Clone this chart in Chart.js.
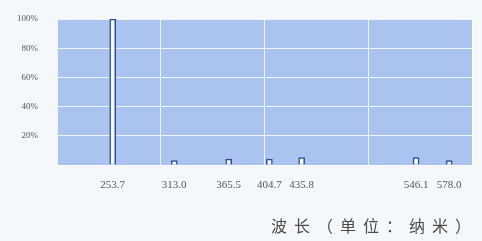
<!DOCTYPE html>
<html lang="zh">
<head>
    <meta charset="UTF-8">
    <title>汞灯谱线</title>
    <script src="https://cdn.jsdelivr.net/npm/chart.js"></script>
    <style>
        html, body { margin: 0; padding: 0; background: #f5f8fb; }
        #wrap { position: relative; width: 482px; height: 241px; }
        #title {
            position: absolute; right: 4px; top: 213px;
            font: 16px "Noto Sans CJK SC", sans-serif; color: #4a4a4a;
            letter-spacing: 7px; white-space: nowrap;
        }
    </style>
</head>
<body>
    <div id="wrap">
        <canvas id="spectrum" width="482" height="241"></canvas>
        <div id="title">波长（单位：纳米）</div>
    </div>

    <script>
        // wavelength lines and their relative intensity (%)
        const wavelengths = [253.7, 313.0, 365.5, 404.7, 435.8, 546.1, 578.0];
        const tickLabels = ['253.7', '313.0', '365.5', '404.7', '435.8', '546.1', '578.0'];
        const intensity = [100, 3, 4, 4, 5, 5, 3];
        const yTicks = [0, 20, 40, 60, 80, 100];

        const plotBg = {
            id: 'plotBg',
            beforeDraw(chart) {
                const { ctx, chartArea: a } = chart;
                ctx.save();
                ctx.fillStyle = '#aac4ef';
                ctx.fillRect(a.left, a.top, a.right - a.left, a.bottom - a.top);
                ctx.restore();
            }
        };

        const ctx = document.getElementById('spectrum').getContext('2d');
        new Chart(ctx, {
            type: 'bar',
            data: {
                datasets: [{
                    data: wavelengths.map((w, i) => ({ x: w, y: intensity[i] })),
                    backgroundColor: '#f4f8ff',
                    borderColor: '#2b4c9c',
                    borderWidth: 1.5,
                    barThickness: 6,
                    xAxisID: 'x'
                }]
            },
            options: {
                responsive: false,
                animation: false,
                layout: { padding: { top: 19, right: 10, left: 0, bottom: 0 } },
                plugins: { legend: { display: false }, tooltip: { enabled: false } },
                scales: {
                    x: {
                        type: 'linear', min: 200, max: 600, offset: false,
                        ticks: { display: false, stepSize: 100 },
                        grid: { offset: false, color: 'rgba(255,255,255,0.8)', drawTicks: false },
                        border: { display: false },
                        afterFit(s) { s.height = 0; }
                    },
                    xl: {
                        type: 'linear', position: 'bottom', min: 200, max: 600, offset: false,
                        afterBuildTicks(s) { s.ticks = wavelengths.map(v => ({ value: v })); },
                        ticks: {
                            autoSkip: false, maxRotation: 0, padding: 6,
                            color: '#555', font: { family: 'Liberation Serif', size: 11 },
                            callback: (v, i) => tickLabels[i]
                        },
                        grid: { display: false },
                        border: { display: false },
                        afterFit(s) { s.height = 76; }
                    },
                    y: {
                        min: 0, max: 100,
                        afterBuildTicks(s) { s.ticks = yTicks.map(v => ({ value: v })); },
                        ticks: {
                            padding: 19, color: '#555',
                            font: { family: 'Liberation Serif', size: 9 },
                            callback: v => v === 0 ? '' : v + '%'
                        },
                        grid: { color: 'rgba(255,255,255,0.8)', drawTicks: false },
                        border: { display: false },
                        afterFit(s) { s.width = 57; s.paddingTop = 0; s.paddingBottom = 0; }
                    }
                }
            },
            plugins: [plotBg]
        });
    </script>
</body>
</html>
